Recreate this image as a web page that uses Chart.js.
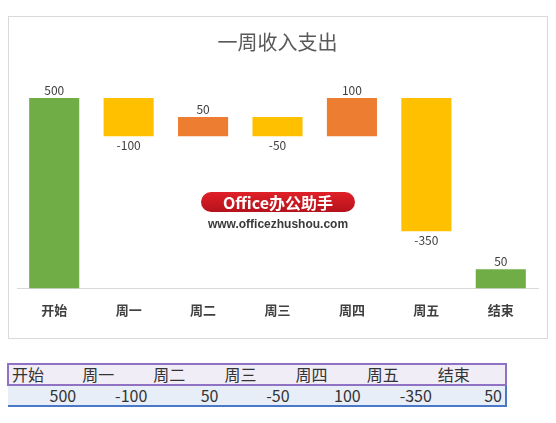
<!DOCTYPE html>
<html>
<head>
  <meta charset="utf-8">
  <title>一周收入支出</title>
  <script src="https://cdn.jsdelivr.net/npm/chart.js"></script>
  <style>
    body {
      margin: 0;
      background: #fff;
      font-family: "Noto Sans CJK SC", sans-serif;
      width: 556px;
      height: 423px;
      position: relative;
      overflow: hidden;
    }
    #box {
      position: absolute;
      left: 8px;
      top: 16px;
      width: 538px;
      height: 321px;
      border: 1px solid #d9d9d9;
      background: #fff;
    }
    #mark {
      position: absolute;
      left: 201px;
      top: 192px;
      width: 154px;
      height: 20px;
      border-radius: 10px;
      background: linear-gradient(#e02028, #b5121b);
      color: #fff;
      font: bold 16px "Noto Sans CJK SC", sans-serif;
      line-height: 20px;
      text-align: center;
    }
    #site {
      position: absolute;
      left: 178px;
      top: 217px;
      width: 200px;
      text-align: center;
      font: bold 12px "Liberation Sans", Arial, sans-serif;
      color: #3a3a3a;
    }
    table {
      position: absolute;
      left: 7px;
      top: 363px;
      width: 500px;
      border-collapse: collapse;
      table-layout: fixed;
      font-size: 16px;
      color: #333;
    }
    td {
      padding: 0 3px;
      white-space: nowrap;
      line-height: 19px;
    }
    tr.head td {
      background: #f1edf7;
      border-top: 2px solid #8f72c4;
      border-bottom: 2px solid #8f72c4;
      text-align: left;
    }
    tr.head td:first-child { border-left: 2px solid #8f72c4; }
    tr.head td:last-child { border-right: 2px solid #8f72c4; }
    tr.vals td {
      background: #e8eef8;
      border-bottom: 2px solid #4a78c8;
      text-align: right;
    }
    tr.vals td:last-child { border-right: 2px solid #4a78c8; }
  </style>
</head>
<body>
  <div id="box"><canvas id="chart"></canvas></div>
  <div id="mark">Office办公助手</div>
  <div id="site">www.officezhushou.com</div>
  <table>
    <tr class="head" id="headRow"></tr>
    <tr class="vals" id="valRow"></tr>
  </table>

  <script>
    // data
    const categories = ['开始', '周一', '周二', '周三', '周四', '周五', '结束'];
    const values = [500, -100, 50, -50, 100, -350, 50];

    // floating bars: first and last are totals from zero, the rest step from the running total
    const ranges = [];
    const colors = [];
    let running = 0;
    values.forEach((v, i) => {
      if (i === 0 || i === values.length - 1) {
        ranges.push([0, v]);
        colors.push('#70ad47');
        running = v;
      } else {
        ranges.push([running, running + v]);
        colors.push(v < 0 ? '#ffc000' : '#ed7d31');
        running += v;
      }
    });

    // data labels above / below the bars
    const barLabels = {
      id: 'barLabels',
      afterDatasetsDraw(chart) {
        const ctx = chart.ctx;
        const meta = chart.getDatasetMeta(0);
        ctx.save();
        ctx.font = '12px "Noto Sans CJK SC", sans-serif';
        ctx.fillStyle = '#404040';
        ctx.textAlign = 'center';
        ctx.textBaseline = 'middle';
        meta.data.forEach((bar, i) => {
          const top = Math.min(bar.y, bar.base);
          const bottom = Math.max(bar.y, bar.base);
          const v = values[i];
          if (v < 0) {
            ctx.fillText(String(v), bar.x, bottom + 9);
          } else {
            ctx.fillText(String(v), bar.x, top - 8);
          }
        });
        ctx.restore();
      }
    };

    new Chart(document.getElementById('chart'), {
      type: 'bar',
      data: {
        labels: categories,
        datasets: [{
          data: ranges,
          backgroundColor: colors,
          borderWidth: 0,
          barPercentage: 0.673,
          categoryPercentage: 1
        }]
      },
      options: {
        responsive: true,
        maintainAspectRatio: false,
        animation: false,
        layout: { padding: { left: 8, right: 9, top: 0, bottom: 6 } },
        plugins: {
          legend: { display: false },
          tooltip: { enabled: false },
          title: {
            display: true,
            text: '一周收入支出',
            color: '#595959',
            font: { family: '"Noto Sans CJK SC", sans-serif', size: 20, weight: 'normal' },
            padding: { top: 13, bottom: 6 }
          }
        },
        scales: {
          x: {
            grid: { display: false, drawTicks: false },
            border: { display: true, color: '#d9d9d9', width: 1 },
            ticks: {
              color: '#404040',
              padding: 14,
              font: { family: '"Noto Sans CJK SC", sans-serif', size: 13, weight: 'bold' }
            }
          },
          y: {
            display: false,
            min: 0,
            max: 600
          }
        }
      },
      plugins: [barLabels]
    });

    // the sheet cells below the chart
    const headRow = document.getElementById('headRow');
    const valRow = document.getElementById('valRow');
    categories.forEach((c, i) => {
      const h = document.createElement('td');
      h.textContent = c;
      headRow.appendChild(h);
      const d = document.createElement('td');
      d.textContent = values[i];
      valRow.appendChild(d);
    });
  </script>
</body>
</html>
